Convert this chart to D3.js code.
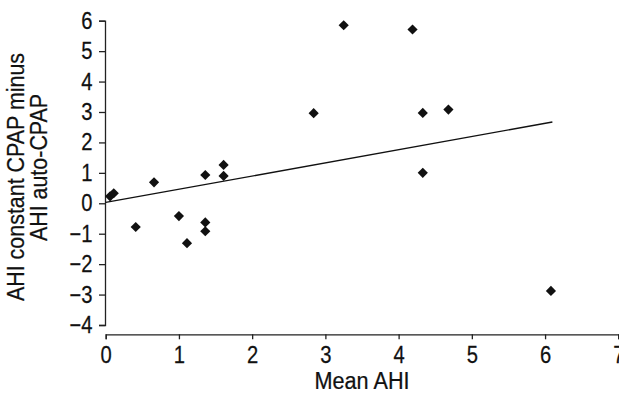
<!DOCTYPE html>
<html>
<head>
<meta charset="utf-8">
<script src="https://cdn.jsdelivr.net/npm/d3@7"></script>
<style>
  body { margin: 0; background: #fff; }
  svg { display: block; }
  .axis text { font-family: "Liberation Sans", Arial, sans-serif; fill: #111; stroke: #111; stroke-width: 0.25; }
  .axis path, .axis line { stroke: #222; stroke-width: 1.3; }
  .title { font-family: "Liberation Sans", Arial, sans-serif; fill: #111; stroke: #111; stroke-width: 0.25; font-size: 23.3px; }
</style>
</head>
<body>
<div id="chart"></div>
<script>
// data
var meanAHI = [0.06, 0.11, 0.41, 0.66, 1.0, 1.11, 1.36, 1.36, 1.36, 1.61, 1.61, 2.84, 3.25, 4.19, 4.33, 4.33, 4.68, 6.08];
var diffAHI = [0.23, 0.33, -0.78, 0.69, -0.42, -1.31, 0.93, -0.63, -0.92, 1.26, 0.9, 2.96, 5.85, 5.71, 2.97, 1.0, 3.08, -2.88];
var fitX = [0, 6.1];
var fitY = [0.03, 2.67];
var xTicks = [0, 1, 2, 3, 4, 5, 6, 7];
var yTicks = [-4, -3, -2, -1, 0, 1, 2, 3, 4, 5, 6];

var svgWidth = 619;
var svgHeight = 394;

// the original uses a condensed face, squeeze the text sideways
var squeeze = 0.86;

var svg = d3.select('#chart')
    .append('svg')
    .attr('width', svgWidth)
    .attr('height', svgHeight);

var xScale = d3.scaleLinear()
    .domain([0, 7])
    .range([105.7, 618.3]);
var yScale = d3.scaleLinear()
    .domain([-4, 6])
    .range([325, 20.7]);

// y axis
var yAxis = svg.append('g')
    .attr('class', 'axis')
    .attr('transform', 'translate(105, 0)')
    .call(d3.axisLeft(yScale).tickValues(yTicks).tickFormat(d3.format('d')).tickSize(6).tickPadding(6));
yAxis.selectAll('text')
    .style('font-size', '23.5px')
    .attr('x', 0)
    .attr('transform', `translate(-12.5, 0) scale(${squeeze}, 1)`);

// x axis, sits a bit below the y axis end
var xAxis = svg.append('g')
    .attr('class', 'axis')
    .attr('transform', 'translate(0, 334.3)')
    .call(d3.axisBottom(xScale).tickValues(xTicks).tickFormat(d3.format('d')).tickSize(5).tickPadding(7));
xAxis.selectAll('text')
    .style('font-size', '23.5px')
    .attr('transform', `scale(${squeeze}, 1)`);

// axis titles
svg.append('text')
    .attr('class', 'title')
    .attr('transform', 'translate(362, 389) scale(0.93, 1)')
    .attr('text-anchor', 'middle')
    .text('Mean AHI');

svg.append('text')
    .attr('class', 'title')
    .attr('transform', 'translate(24, 177) rotate(-90) scale(0.92, 1)')
    .attr('text-anchor', 'middle')
    .text('AHI constant CPAP minus');
svg.append('text')
    .attr('class', 'title')
    .attr('transform', 'translate(47, 167.5) rotate(-90) scale(0.92, 1)')
    .attr('text-anchor', 'middle')
    .text('AHI auto-CPAP');

// regression line
var line = d3.line()
    .x(d => xScale(d[0]))
    .y(d => yScale(d[1]));
svg.append('path')
    .datum(d3.zip(fitX, fitY))
    .attr('d', line)
    .attr('fill', 'none')
    .attr('stroke', '#111')
    .attr('stroke-width', 1.4);

// diamond markers
var diamond = d3.symbol().type(d3.symbolSquare).size(52);
svg.selectAll('.pt')
    .data(d3.zip(meanAHI, diffAHI))
    .enter()
    .append('path')
    .attr('class', 'pt')
    .attr('d', diamond)
    .attr('transform', d => `translate(${xScale(d[0])}, ${yScale(d[1])}) rotate(45)`)
    .attr('fill', '#111');
</script>
</body>
</html>
